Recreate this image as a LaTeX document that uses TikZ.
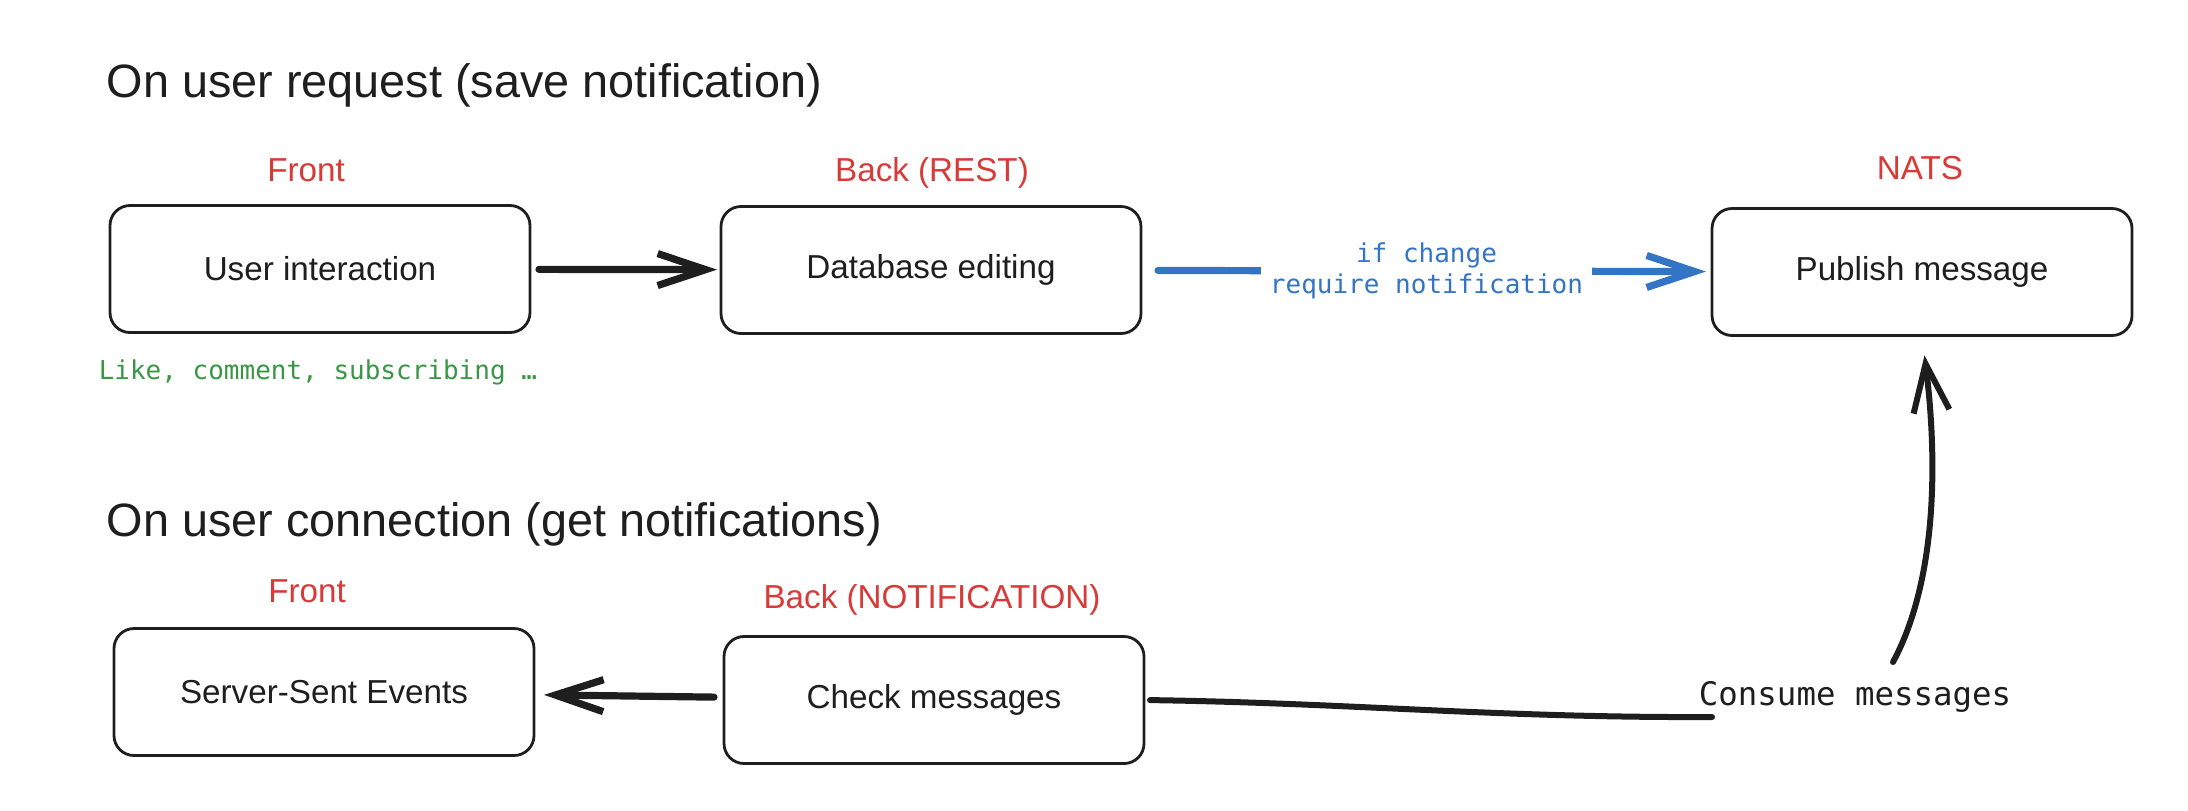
\documentclass[tikz,border=0pt]{standalone}
\usepackage{fontspec}
\setmainfont{Liberation Sans}
\setmonofont{DejaVu Sans Mono}
\usetikzlibrary{arrows.meta}

\definecolor{inkblack}{RGB}{30,30,30}
\definecolor{labelred}{RGB}{216,58,56}
\definecolor{notegreen}{RGB}{56,150,68}
\definecolor{flowblue}{RGB}{52,116,196}

\tikzset{every picture/.style={line width=0.75pt},
  stagebox/.style={draw=inkblack, line width=1.4pt, rounded corners=10pt, minimum width=210pt, minimum height=63.5pt, inner sep=0pt, outer sep=0pt, text=inkblack, font=\fontsize{16.6}{20}\selectfont},
  layerlabel/.style={anchor=base, inner sep=0pt, text=labelred, font=\fontsize{16.6}{20}\selectfont},
  sectiontitle/.style={anchor=base west, inner sep=0pt, text=inkblack, font=\fontsize{23.4}{28}\selectfont},
  codenote/.style={inner sep=0pt, font=\ttfamily\fontsize{13}{15.5}\selectfont},
  flowarrow/.style={line width=3.6pt, line cap=round, -{Straight Barb[length=24pt,width=16pt]}}
}

\begin{document}
\begin{tikzpicture}[x=0.5pt,y=0.5pt,yscale=-1,xscale=1]
\useasboundingbox (0,0) rectangle (2188,810);

% Text Node
\node[sectiontitle] (titlereq) at (106,97) {On user request (save notification)};
% Text Node
\node[sectiontitle] (titleconn) at (106,536) {On user connection (get notifications)};

%Shape: Rectangle [ui]
\node[stagebox] (ui) at (320,269) {User interaction};
%Shape: Rectangle [db]
\node[stagebox] (db) at (931,270) {Database editing};
%Shape: Rectangle [pub]
\node[stagebox] (pub) at (1922,272) {Publish message};
%Shape: Rectangle [sse]
\node[stagebox] (sse) at (324,692) {Server-Sent Events};
%Shape: Rectangle [check]
\node[stagebox] (check) at (934,700) {Check messages};

% Text Node
\node[layerlabel] (frontreq) at (306,181) {Front};
% Text Node
\node[layerlabel] (rest) at (932,181) {Back (REST)};
% Text Node
\node[layerlabel] (nats) at (1920,179) {NATS};
% Text Node
\node[layerlabel] (frontconn) at (307,602) {Front};
% Text Node
\node[layerlabel] (notif) at (932,608) {Back (NOTIFICATION)};
% Text Node
\node[codenote, anchor=base west, text=notegreen] (examples) at (98,379) {Like, comment, subscribing …};
% Text Node
\node[codenote, anchor=base, text=inkblack, font=\ttfamily\fontsize{16.2}{19}\selectfont] (consume) at (1855,705) {Consume messages};

\coordinate (lineend) at (1712,717);
\coordinate (upstart) at (1893,662);

%Straight Lines
\draw[flowarrow, inkblack, shorten <=4.5pt, shorten >=2pt] (ui) -- (db);
%Straight Lines
\draw[flowarrow, flowblue, shorten <=8.5pt, shorten >=3pt] (db) -- node[fill=white, codenote, text=flowblue, align=center, inner xsep=4.5pt, inner ysep=2pt] (cond) {if change\\require notification} (pub);
%Straight Lines
\draw[flowarrow, inkblack, shorten <=5pt, shorten >=5pt] (check) -- (sse);
%Curve Lines
\draw[inkblack, line width=3pt, line cap=round, shorten <=3pt] (check.east) .. controls (1350,703) and (1500,718) .. (lineend);
%Curve Lines
\draw[inkblack, line width=3pt, line cap=round, -{Straight Barb[length=24pt,width=18pt]}, shorten >=10pt] (upstart) .. controls (1932,590) and (1940,480) .. (pub.south);

\end{tikzpicture}
\end{document}
